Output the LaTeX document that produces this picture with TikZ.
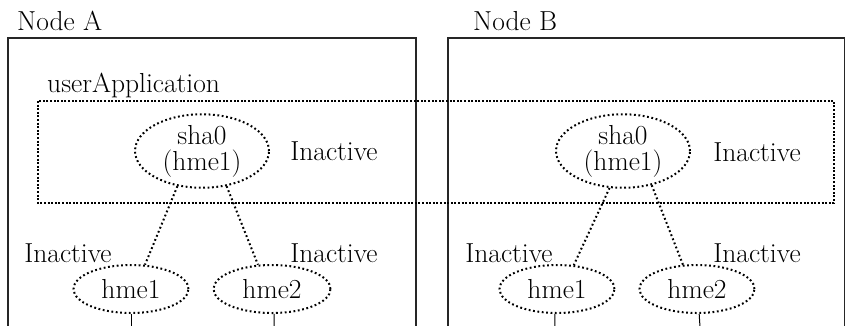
\documentclass[tikz,border=0pt]{standalone}
\usepackage{tikz}
\usetikzlibrary{shapes.geometric}
\newcommand{\cltext}{\fontsize{27.5}{26}\selectfont}
\tikzset{
  cl node box/.style={
    draw=black!85,
    line width=1.2pt,
  },
  cl app box/.style={
    draw=black,
    line width=2.2pt,
    dash pattern=on 2pt off 1.6pt,
  },
  cl if/.style={
    ellipse,
    draw=black,
    line width=2pt,
    dash pattern=on 1.8pt off 2.6pt,
    inner sep=0pt,
    align=center,
    font=\cltext,
  },
  cl caption/.style={inner sep=0pt, anchor=base west, font=\cltext},
  cl state/.style={inner sep=0pt, font=\cltext},
  cl link/.style={line width=2pt, dash pattern=on 1.8pt off 2.6pt},
  cl lan/.style={line width=1pt},
}

\begin{document}
\begin{tikzpicture}[x=1pt, y=-1pt]
  \useasboundingbox (0,0) rectangle (845,325);

  % cluster nodes
  \draw[cl node box] (8,38) rectangle (416,327);
  \draw[cl node box] (448,38) rectangle (845,327);
  \node[cl caption] (capA) at (17,30) {Node A};
  \node[cl caption] (capB) at (473,30) {Node B};

  % userApplication
  \draw[cl app box] (38,101) rectangle (834,203);
  \node[cl caption] (capUA) at (47,92) {userApplication};

  % Node A
  \node[cl if, minimum width=134pt, minimum height=66pt] (shaA) at (202,151) {sha0\\(hme1)};
  \node[cl state] (stShaA) at (334,151) {Inactive};
  \node[cl if, minimum width=115pt, minimum height=48pt] (hmeA1) at (131,289) {hme1};
  \node[cl if, minimum width=117pt, minimum height=48pt] (hmeA2) at (272,289) {hme2};
  \node[cl state] (stA1) at (68,253) {Inactive};
  \node[cl state] (stA2) at (334,253) {Inactive};

  % Node B
  \node[cl if, minimum width=134pt, minimum height=66pt] (shaB) at (623,151) {sha0\\(hme1)};
  \node[cl state] (stShaB) at (757,152) {Inactive};
  \node[cl if, minimum width=115pt, minimum height=48pt] (hmeB1) at (557,289) {hme1};
  \node[cl if, minimum width=115pt, minimum height=48pt] (hmeB2) at (697,289) {hme2};
  \node[cl state] (stB1) at (509,253) {Inactive};
  \node[cl state] (stB2) at (757,253) {Inactive};

  % bindings
  \draw[cl link] (shaA.-125) -- (hmeA1.60);
  \draw[cl link] (shaA.-55) -- (hmeA2.120);
  \draw[cl link] (shaB.-110) -- (hmeB1.55);
  \draw[cl link] (shaB.-50) -- (hmeB2.120);

  % wires down to the LAN
  \coordinate (lanA1) at (131,327);
  \coordinate (lanA2) at (274,327);
  \coordinate (lanB1) at (555,327);
  \coordinate (lanB2) at (700,327);
  \draw[cl lan] (hmeA1.south) -- (lanA1);
  \draw[cl lan] (hmeA2.-85) -- (lanA2);
  \draw[cl lan] (hmeB1.-95) -- (lanB1);
  \draw[cl lan] (hmeB2.-85) -- (lanB2);
\end{tikzpicture}
\end{document}
